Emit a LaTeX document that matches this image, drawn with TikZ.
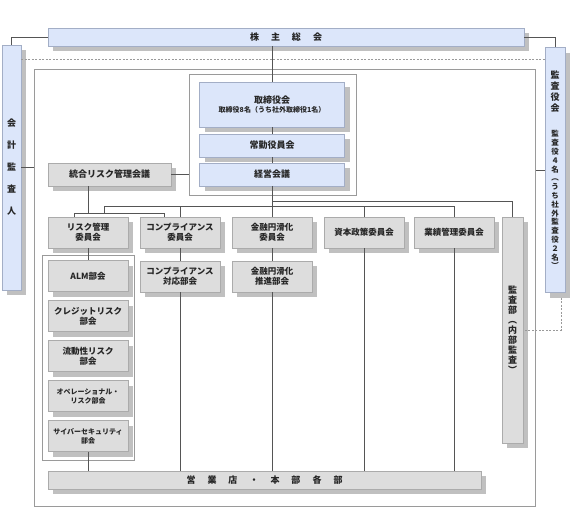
\documentclass[tikz,border=0pt]{standalone}
\usepackage{fontspec}
\usepackage{tikz}
\usetikzlibrary{calc,shadows}
\newfontfamily\jpfont{Noto Sans CJK JP}
\definecolor{boxblue}{HTML}{DCE6FA}
\definecolor{edgeblue}{HTML}{A3AEC6}
\definecolor{boxgray}{HTML}{DDDDDD}
\definecolor{edgegray}{HTML}{ABABAB}
\definecolor{shadowgray}{HTML}{C0C0C0}
\definecolor{linegray}{HTML}{555555}
\definecolor{framegray}{HTML}{9A9A9A}
\tikzstyle{orgbox}=[rectangle,draw,line width=0.8pt,inner sep=1pt,align=center,
                    font=\jpfont\bfseries\fontsize{8.5}{10}\selectfont,text=black!85,
                    drop shadow={shadow xshift=5pt,shadow yshift=-5pt,fill=shadowgray,opacity=1}]
\tikzstyle{bluebox}=[orgbox,fill=boxblue,draw=edgeblue]
\tikzstyle{graybox}=[orgbox,fill=boxgray,draw=edgegray]
\tikzstyle{bigtext}=[font=\jpfont\bfseries\fontsize{9}{11}\selectfont]
\tikzstyle{smalltext}=[font=\jpfont\bfseries\fontsize{7}{9}\selectfont]
\tikzstyle{frame}=[rectangle,draw=framegray,line width=1pt,inner sep=0pt]
\tikzstyle{link}=[draw=linegray,line width=0.7pt]
\tikzstyle{dashlink}=[draw=framegray,line width=0.9pt,dash pattern=on 2pt off 1.5pt]
\tikzset{wh/.style 2 args={minimum width=#1pt,minimum height=#2pt}}
\newcommand\tate[3]{\parbox{14pt}{\centering\fontsize{#1}{#2}\selectfont #3}}
\newcommand\wsp{\hspace{12pt}}

\begin{document}
\begin{tikzpicture}[x=1pt,y=-1pt]
    \useasboundingbox (0,0) rectangle (580,517);
    % frames
    \node [frame,wh={501}{437}] (outer) at (284.5,287.5) {};
    \node [frame,wh={167}{121}] (board) at (272.5,134.5) {};
    \node [frame,wh={92}{205}] (riskgroup) at (88,357.5) {};

    % top and side boxes
    \node [bluebox,bigtext,wh={476}{18}] (soukai) at (286,37) {株\wsp 主\wsp 総\wsp 会};
    \node [bluebox,wh={19}{245}] (kaikei) at (11.5,167.5) {\tate{9}{22}{会\\計\\監\\査\\人}};
    \node [bluebox,wh={20}{245}] (kansayaku) at (555,170) {
        \tate{9}{11}{監\\査\\役\\会}\\[17pt]
        \tate{7.5}{8.8}{監\\査\\役\\４\\名\\︵\\う\\ち\\社\\外\\監\\査\\役\\２\\名\\︶}
    };

    % board
    \node [bluebox,wh={145}{45}] (torishimari) at (272,104.5) {
        {\fontsize{9}{10}\selectfont 取締役会}\\[-1pt]
        {\fontsize{7}{8}\selectfont 取締役8名（うち社外取締役1名）}
    };
    \node [bluebox,bigtext,wh={145}{23}] (jokin) at (272,145.5) {常勤役員会};
    \node [bluebox,bigtext,wh={145}{23}] (keiei) at (272,174.5) {経営会議};
    \node [graybox,bigtext,wh={123}{23}] (togo) at (109.5,174.5) {統合リスク管理会議};

    % committees
    \node [graybox,wh={80}{31}] (risk) at (88,232.5) {リスク管理\\委員会};
    \node [graybox,wh={80}{31}] (comp) at (180,232.5) {コンプライアンス\\委員会};
    \node [graybox,wh={80}{31}] (kinyu) at (272,232.5) {金融円滑化\\委員会};
    \node [graybox,wh={80}{31}] (shihon) at (364,232.5) {資本政策委員会};
    \node [graybox,wh={80}{31}] (gyoseki) at (454,232.5) {業績管理委員会};
    \node [graybox,wh={21}{226}] (kansabu) at (512.5,330) {\tate{9}{10}{監\\査\\部\\︵\\内\\部\\監\\査\\︶}};

    \node [graybox,wh={80}{31}] (compbu) at (180,276.5) {コンプライアンス\\対応部会};
    \node [graybox,wh={80}{31}] (kinyubu) at (272,276.5) {金融円滑化\\推進部会};

    % risk group
    \node [graybox,wh={80}{31}] (alm) at (88,276) {ALM部会};
    \node [graybox,wh={80}{31}] (credit) at (88,316) {クレジットリスク\\部会};
    \node [graybox,wh={80}{31}] (ryudo) at (88,356) {流動性リスク\\部会};
    \node [graybox,smalltext,wh={80}{31}] (opr) at (88,396) {オペレーショナル・\\リスク部会};
    \node [graybox,smalltext,wh={80}{31}] (cyber) at (88,436) {サイバーセキュリティ\\部会};

    \node [graybox,bigtext,wh={433}{18}] (eigyo) at (264.5,480) {営\wsp 業\wsp 店\wsp ・\wsp 本\wsp 部\wsp 各\wsp 部};

    % links
    \draw [link] (soukai.west) -| (kaikei.north);
    \draw [link] (soukai.east) -| (kansayaku.north);
    \draw [link] (soukai.south -| torishimari.north) -- (torishimari.north);
    \draw [link] (torishimari) -- (jokin);
    \draw [link] (jokin) -- (keiei);
    \draw [link] (keiei) -- (kinyu);
    \draw [link] (kinyu) -- (kinyubu);
    \draw [link] (comp) -- (compbu);
    \draw [link] (risk) -- (alm);
    \foreach \n in {compbu,kinyubu,shihon,gyoseki,cyber}
        \draw [link] (\n.south) -- (\n.south |- eigyo.north);

    \coordinate (busA) at (272,201);
    \coordinate (busB) at (104,206);
    \coordinate (busC) at (74,213);
    \coordinate (busD) at (164,213);
    \draw [link] (busA) -| (kansabu.north);
    \draw [link] (busB) -| (gyoseki.north);
    \foreach \n in {comp,shihon}
        \draw [link] (busB -| \n.north) -- (\n.north);
    \draw [link] (busC |- risk.north) -- (busC) -- (busD) -- (busD |- comp.north);
    \draw [link] (busB) -- (busB |- busC);
    \draw [link] (togo.south -| risk.north) -- (risk.north |- busC);

    \draw [link] (kaikei.east) -- (kaikei.east -| outer.west);
    \draw [link] (kansayaku.west) -- (kansayaku.west -| outer.east);
    \draw [link] (togo.east) -- (togo.east -| board.west);

    % dashed
    \coordinate (dashy) at (0,59);
    \draw [dashlink] (kaikei.east |- dashy) -- (kansayaku.west |- dashy);
    \draw [dashlink] ([xshift=6pt,yshift=-5pt]kansayaku.south) |- (kansabu.east);
\end{tikzpicture}
\end{document}
